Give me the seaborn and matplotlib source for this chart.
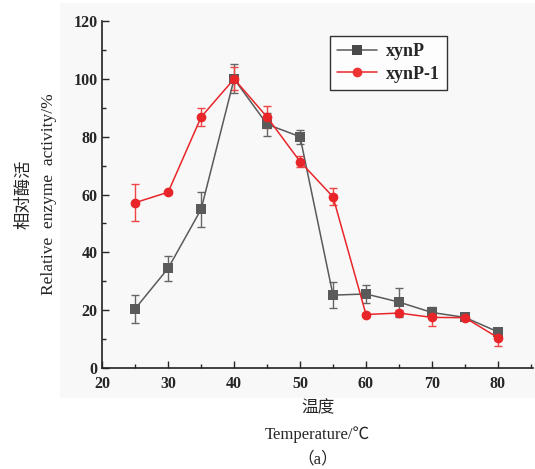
import numpy as np
import pandas as pd
import seaborn as sns
from matplotlib import pyplot as plt
from matplotlib.patches import Rectangle
from matplotlib.ticker import MultipleLocator

# Temperature (C) and relative activity (%)
temperature = [25, 30, 35, 40, 45, 50, 55, 60, 65, 70, 75, 80]
xynp_mean = [20.5, 34.5, 54.9, 100.0, 84.3, 80.0, 25.2, 25.6, 22.8, 19.2, 17.5, 12.5]
xynp_err = [4.9, 4.4, 6.0, 5.0, 4.0, 2.5, 4.4, 3.0, 5.0, 1.8, 0.8, 0.8]
xynp1_mean = [57.2, 60.8, 86.8, 100.0, 86.8, 71.4, 59.2, 18.5, 19.0, 17.5, 17.4, 10.5]
xynp1_err = [6.3, 0.5, 3.2, 4.0, 3.8, 2.0, 2.9, 0.5, 1.0, 3.0, 0.5, 3.0]

df = pd.DataFrame({
    "Temperature": temperature * 2,
    "Activity": xynp_mean + xynp1_mean,
    "Enzyme": ["xynP"] * len(temperature) + ["xynP-1"] * len(temperature),
})

sns.set_style("ticks")
plt.rcParams['font.family'] = ['Liberation Serif', 'Noto Sans CJK SC', 'DejaVu Sans']
plt.rcParams['axes.unicode_minus'] = False

fig = plt.figure(figsize=(5.35, 4.69), dpi=100)
fig.patch.set_facecolor('white')
# light grey panel behind the figure content
fig.patches.append(Rectangle((60 / 535, 71 / 469), 1 - 60 / 535, 395 / 469,
                             transform=fig.transFigure, facecolor='#f8f8f8',
                             edgecolor='none', zorder=-10))
ax = fig.add_axes([0.191, 0.2154, 0.805, 0.7396])
ax.set_facecolor('#f8f8f8')

palette = {"xynP": "#5a5a5a", "xynP-1": "#e8262a"}
marker_colors = {"xynP": "#4a4a4a", "xynP-1": "#ee3333"}

# error bars
ax.errorbar(temperature, xynp_mean, yerr=xynp_err, fmt='none', ecolor='#666666',
            elinewidth=1, capsize=3, capthick=1, zorder=2)
ax.errorbar(temperature, xynp1_mean, yerr=xynp1_err, fmt='none', ecolor='#ee4444',
            elinewidth=1, capsize=3, capthick=1, zorder=2)

sns.lineplot(data=df, x="Temperature", y="Activity", hue="Enzyme", style="Enzyme",
             markers={"xynP": "s", "xynP-1": "o"}, dashes=False, palette=palette,
             markersize=7, linewidth=1.1, markeredgewidth=0, ax=ax, zorder=3)

ax.set_xlim(20, 85.3)
ax.set_ylim(0, 120)
ax.xaxis.set_major_locator(MultipleLocator(10))
ax.xaxis.set_minor_locator(MultipleLocator(5))
ax.yaxis.set_major_locator(MultipleLocator(20))
ax.yaxis.set_minor_locator(MultipleLocator(10))
ax.tick_params(which='major', direction='in', length=5, width=1, labelsize=11.5)
ax.tick_params(axis='x', which='major', pad=6)
ax.tick_params(which='minor', direction='in', length=3, width=1)
for lbl in ax.get_xticklabels() + ax.get_yticklabels():
    lbl.set_fontweight('bold')

ax.set_xlabel("温度\nTemperature/℃\n（a）", fontsize=12, linespacing=1.75)
ax.set_ylabel("相对酶活\nRelative  enzyme  activity/%", fontsize=12.5, linespacing=1.7)
ax.xaxis.labelpad = 6
ax.yaxis.labelpad = 12

sns.despine(ax=ax)
for s in ['left', 'bottom']:
    ax.spines[s].set_color('#222222')
    ax.spines[s].set_linewidth(1.2)

# legend
handles, labels = ax.get_legend_handles_labels()
for h, l in zip(handles, labels):
    h.set_markeredgewidth(0)
    h.set_markerfacecolor(marker_colors[l])
leg = ax.legend(handles, labels, loc='upper left', bbox_to_anchor=(0.529, 0.957),
                borderaxespad=0, frameon=True, fancybox=False, edgecolor='black',
                prop={'weight': 'bold', 'size': 13}, handlelength=2.2,
                borderpad=0.4, labelspacing=0.3, handletextpad=0.5)
leg.get_frame().set_linewidth(1.0)
leg.get_frame().set_facecolor('white')

plt.savefig('out.png', dpi=100)
